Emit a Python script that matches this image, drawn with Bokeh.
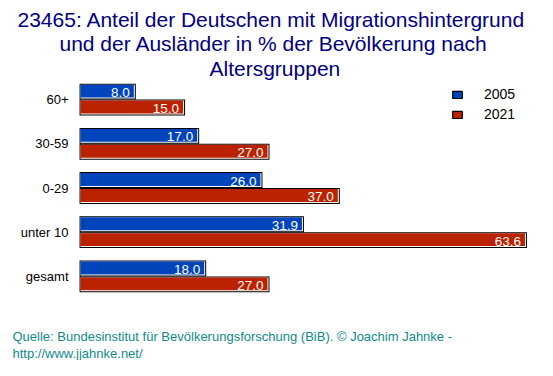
from bokeh.plotting import figure
from bokeh.models import FactorRange, Range1d, Legend, LegendItem, ColumnDataSource, Title
from bokeh.transform import dodge
from bokeh.core.properties import value
from bokeh.embed import file_html
from bokeh.resources import INLINE

# ---- data ----
categories = ["60+", "30-59", "0-29", "unter 10", "gesamt"]
years = ["2005", "2021"]
values_2005 = [8.0, 17.0, 26.0, 31.9, 18.0]
values_2021 = [15.0, 27.0, 37.0, 63.6, 27.0]
title_lines = [
    "23465: Anteil der Deutschen mit Migrationshintergrund",
    "und der Ausländer in % der Bevölkerung nach",
    "Altersgruppen",
]
source_lines = [
    "Quelle: Bundesinstitut für Bevölkerungsforschung (BiB). © Joachim Jahnke -",
    "http://www.jjahnke.net/",
]

BLUE = "#0044BB"
RED = "#BB2200"
FONT = "Liberation Sans"
TITLE_COLOR = "#000080"
SOURCE_COLOR = "#108A8A"

W, H = 537, 360
p = figure(
    width=W, height=H,
    y_range=FactorRange(factors=categories[::-1]),
    x_range=Range1d(-0.15, 65.1),
    x_axis_location=None,
    output_backend="svg", toolbar_location=None,
    min_border_left=78, min_border_right=0,
    min_border_top=77, min_border_bottom=61,
)
p.outline_line_color = None
p.grid.visible = False
p.yaxis.axis_line_color = None
p.yaxis.major_tick_line_color = None
p.yaxis.minor_tick_line_color = None
p.yaxis.major_tick_in = 0
p.yaxis.major_tick_out = 0
p.yaxis.major_label_standoff = 10
p.yaxis.major_label_text_font = FONT
p.yaxis.major_label_text_font_size = "13px"
p.yaxis.major_label_text_color = "black"

SX = 459 / 65.25   # px per x unit
SY = 222 / 5       # px per category
px, py = 1 / SX, 1 / SY
BH = 0.36

legend_items = []
for vals, yr, col, d in [(values_2005, "2005", BLUE, 0.18), (values_2021, "2021", RED, -0.18)]:
    src = ColumnDataSource(dict(
        cat=categories,
        v=vals,
        v_white=[v - px for v in vals],
        v_col=[v - 2 * px for v in vals],
        lab=[f"{v:.1f}" for v in vals],
    ))
    p.hbar(y=dodge("cat", d, range=p.y_range), left=0, right="v", height=BH,
           fill_color="black", line_color=None, source=src)
    p.hbar(y=dodge("cat", d, range=p.y_range), left=px, right="v_white", height=BH - 2 * py,
           fill_color="white", line_color=None, source=src)
    p.hbar(y=dodge("cat", d + 0.5 * py, range=p.y_range), left=px, right="v_col", height=BH - 3 * py,
           fill_color=col, line_color=None, source=src)
    p.text(x="v", y=dodge("cat", d, range=p.y_range), text="lab", source=src,
           x_offset=-6, y_offset=1, text_align="right", text_baseline="middle",
           text_color="white", text_font=value(FONT), text_font_size="13.5px")
    proxy = p.hbar(y=dodge("cat", d, range=p.y_range), left=0, right="v", height=BH,
                   fill_color=col, line_color="black", line_width=1.2, source=src, visible=False)
    legend_items.append(LegendItem(label=yr, renderers=[proxy]))

legend = Legend(
    items=legend_items, location=(373, 174),
    glyph_width=12, glyph_height=9, label_height=20, label_standoff=21,
    spacing=0, padding=0, margin=0,
    border_line_color=None, background_fill_alpha=0,
    inactive_fill_alpha=0,
    label_text_font=FONT, label_text_font_size="14px", label_text_color="black",
)
p.add_layout(legend, "center")

# title lines: outermost is the figure title, the rest are stacked from the frame outward
p.title.text = title_lines[0]
title_specs = [(p.title, -61, -7)]
for txt, off, so in [(title_lines[2], 131, -5), (title_lines[1], -19, 5)]:
    t = Title(text=txt)
    p.add_layout(t, "above")
    title_specs.append((t, off, so))
for t, off, so in title_specs:
    t.align = "left"
    t.offset = off
    t.standoff = so
    t.vertical_align = "bottom"
    t.text_font = FONT
    t.text_font_size = "21px"
    t.text_font_style = "normal"
    t.text_color = TITLE_COLOR

# blank spacer between the bars and the source note
p.add_layout(Title(text=" ", text_font=FONT, text_font_size="13px", standoff=11), "below")
for txt in source_lines:
    t = Title(text=txt, align="left", offset=-66, standoff=0, vertical_align="bottom",
              text_font=FONT, text_font_size="13px", text_font_style="normal",
              text_color=SOURCE_COLOR)
    p.add_layout(t, "below")

open("out.html", "w").write(file_html(p, INLINE))
